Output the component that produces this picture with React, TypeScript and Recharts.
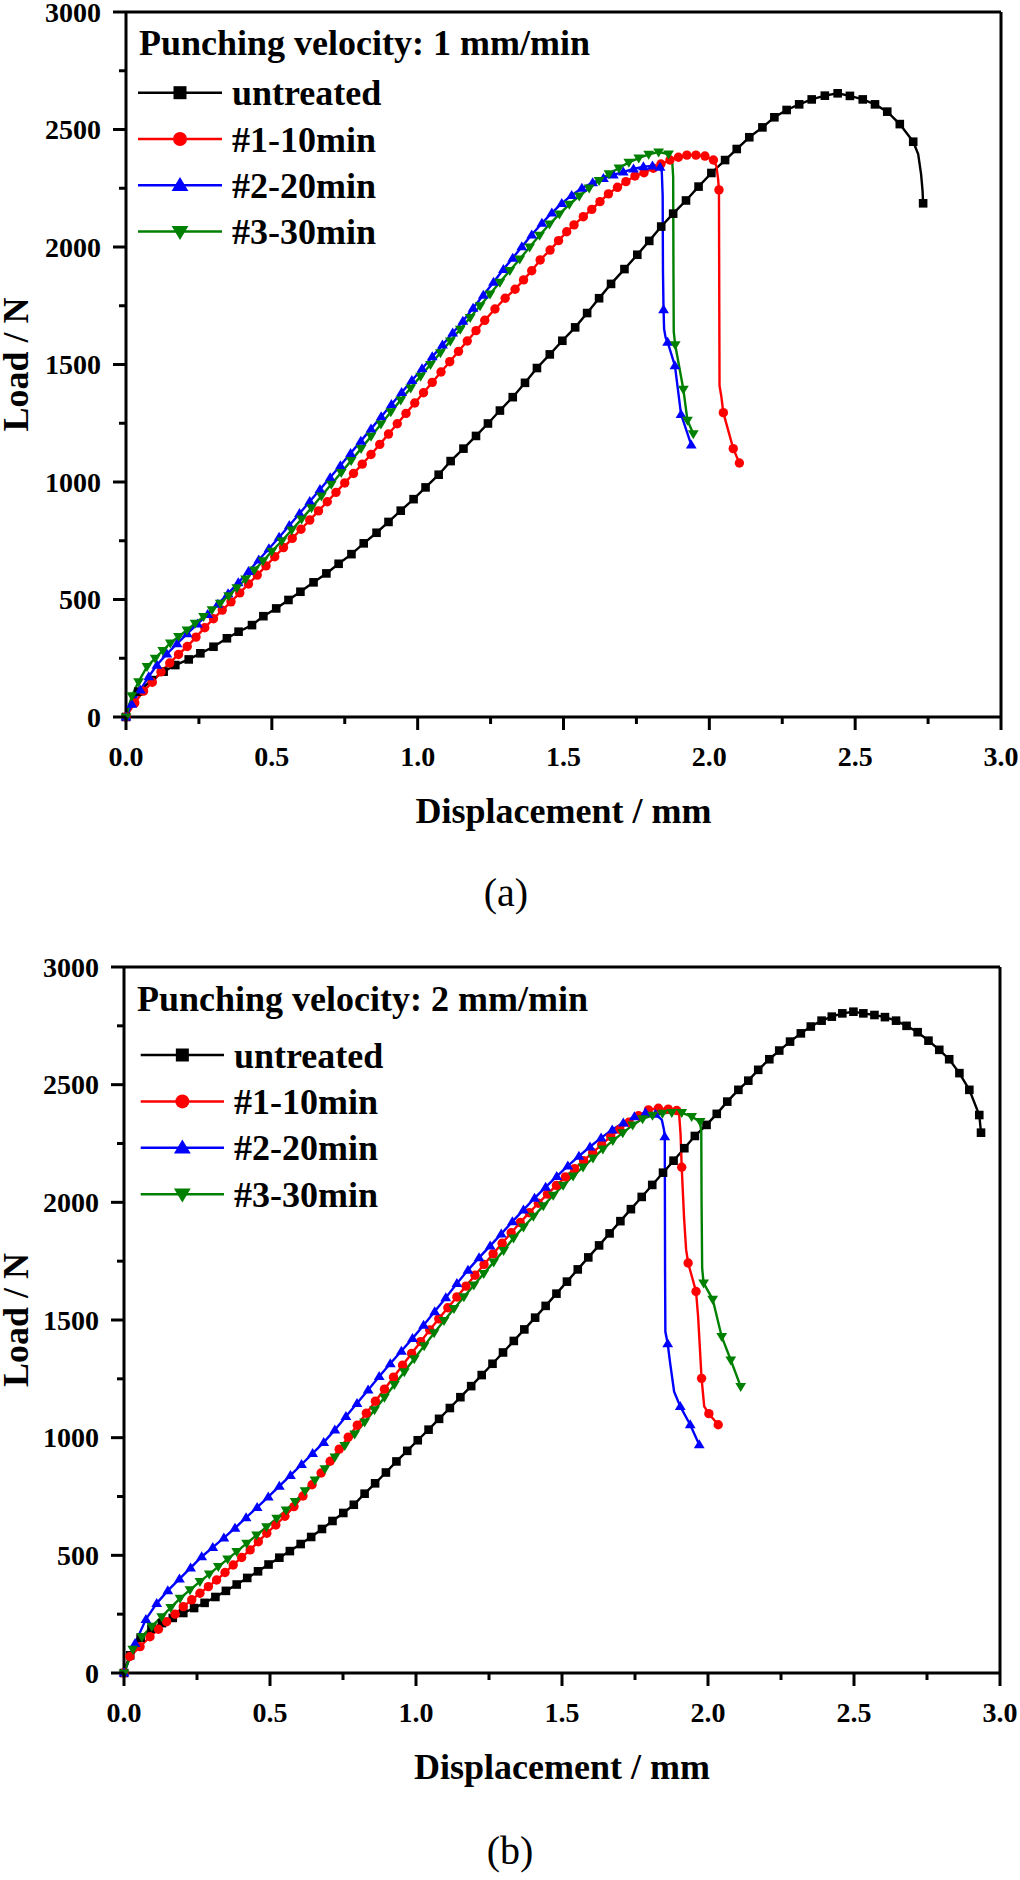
import React from 'react';
import { LineChart, Line, XAxis, YAxis, ReferenceLine } from 'recharts';

type Pt = [number, number];
type Row = { x: number; y: number; sym: boolean };

const SERIF = "'Liberation Serif', 'Times New Roman', Times, serif";

// Axis ticks (minor every 0.25 mm / 250 N, labelled every 0.5 mm / 500 N)
const DISP_TICKS = [0, 0.25, 0.5, 0.75, 1, 1.25, 1.5, 1.75, 2, 2.25, 2.5, 2.75, 3];
const LOAD_TICKS = [0, 250, 500, 750, 1000, 1250, 1500, 1750, 2000, 2250, 2500, 2750, 3000];

const SERIES_NAMES = ['untreated', '#1-10min', '#2-20min', '#3-30min'];
const SERIES_COLORS = ['#000000', '#ff0000', '#0000ff', '#008000'];
const SERIES_SYMBOLS = ['square', 'circle', 'up', 'down'];
const VELOCITY_TITLES = ['Punching velocity: 1 mm/min', 'Punching velocity: 2 mm/min'];
const PANEL_TAGS = ['(a)', '(b)'];
const X_TITLE = 'Displacement / mm';
const Y_TITLE = 'Load / N';

// ---------- Punching velocity 1 mm/min: [displacement mm, load N] ----------
// symbol points
const untreatedA: Pt[] = [
  [0, 0], [0.042, 108], [0.089, 157], [0.129, 193], [0.169, 221], [0.215, 245], [0.255, 271], [0.3, 299],
  [0.346, 335], [0.386, 363], [0.432, 391], [0.471, 429], [0.515, 462], [0.557, 498], [0.598, 533], [0.643, 573],
  [0.687, 611], [0.729, 652], [0.773, 693], [0.815, 739], [0.859, 784], [0.9, 830], [0.942, 878], [0.986, 927],
  [1.027, 977], [1.072, 1031], [1.113, 1089], [1.157, 1142], [1.2, 1196], [1.241, 1249], [1.282, 1304], [1.326, 1361],
  [1.368, 1422], [1.409, 1485], [1.453, 1543], [1.496, 1601], [1.54, 1658], [1.581, 1719], [1.622, 1782], [1.663, 1843],
  [1.709, 1906], [1.753, 1967], [1.794, 2026], [1.835, 2087], [1.876, 2142], [1.92, 2198], [1.963, 2257], [2.007, 2315],
  [2.054, 2370], [2.094, 2417], [2.137, 2467], [2.182, 2509], [2.223, 2552], [2.265, 2583], [2.308, 2607], [2.351, 2628],
  [2.396, 2644], [2.44, 2654], [2.482, 2643], [2.526, 2628], [2.568, 2607], [2.61, 2576], [2.653, 2523], [2.699, 2448],
  [2.733, 2186],
];
// line-only points between symbols
const untreatedABends: Pt[] = [[0.012, 55], [2.716, 2395], [2.726, 2310], [2.731, 2240]];

const min10A: Pt[] = [
  [0, 0], [0.03, 60], [0.06, 110], [0.09, 148], [0.12, 192], [0.15, 230], [0.18, 266], [0.21, 300],
  [0.24, 340], [0.27, 380], [0.3, 418], [0.33, 455], [0.36, 490], [0.39, 528], [0.42, 566], [0.45, 604],
  [0.48, 643], [0.51, 682], [0.54, 721], [0.57, 760], [0.6, 799], [0.63, 838], [0.66, 877], [0.69, 916],
  [0.72, 956], [0.75, 996], [0.78, 1036], [0.81, 1076], [0.84, 1117], [0.87, 1160], [0.9, 1204], [0.93, 1248],
  [0.96, 1292], [0.99, 1336], [1.02, 1380], [1.05, 1424], [1.08, 1468], [1.11, 1512], [1.14, 1556], [1.17, 1600],
  [1.2, 1644], [1.23, 1688], [1.265, 1736], [1.3, 1782], [1.334, 1820], [1.363, 1860], [1.391, 1899], [1.42, 1945],
  [1.454, 1987], [1.483, 2027], [1.511, 2065], [1.536, 2094], [1.568, 2129], [1.597, 2160], [1.625, 2193], [1.654, 2226],
  [1.685, 2254], [1.714, 2278], [1.745, 2302], [1.776, 2316], [1.808, 2335], [1.834, 2353], [1.865, 2370], [1.894, 2382],
  [1.923, 2391], [1.954, 2391], [1.985, 2387], [2.014, 2370], [2.033, 2243], [2.048, 1295], [2.082, 1142], [2.103, 1081],
];
const min10ABends: Pt[] = [[2.024, 2345], [2.03, 2290], [2.034, 1800], [2.035, 1410], [2.041, 1365]];

const min20A: Pt[] = [
  [0, 0], [0.02, 55], [0.049, 115], [0.078, 172], [0.106, 221], [0.14, 268], [0.175, 312], [0.21, 355],
  [0.245, 396], [0.28, 437], [0.315, 480], [0.35, 525], [0.385, 572], [0.42, 620], [0.455, 668], [0.49, 716],
  [0.525, 765], [0.56, 815], [0.595, 866], [0.63, 917], [0.665, 968], [0.7, 1019], [0.735, 1070], [0.77, 1122],
  [0.805, 1174], [0.84, 1226], [0.875, 1278], [0.91, 1330], [0.945, 1381], [0.98, 1432], [1.015, 1482], [1.05, 1533],
  [1.085, 1583], [1.12, 1634], [1.155, 1684], [1.19, 1740], [1.225, 1795], [1.26, 1850], [1.294, 1905], [1.326, 1953],
  [1.357, 2001], [1.391, 2052], [1.426, 2101], [1.46, 2145], [1.494, 2186], [1.528, 2220], [1.563, 2250], [1.6, 2274],
  [1.637, 2292], [1.671, 2307], [1.705, 2320], [1.74, 2332], [1.774, 2342], [1.805, 2345], [1.831, 2340], [1.843, 1733],
  [1.857, 1595], [1.882, 1495], [1.903, 1288], [1.938, 1158],
];
const min20ABends: Pt[] = [[1.837, 2320], [1.84, 2220], [1.841, 1900], [1.845, 1650], [1.85, 1615]];

const min30A: Pt[] = [
  [0, 0], [0.02, 90], [0.043, 150], [0.072, 214], [0.1, 250], [0.126, 283], [0.152, 314], [0.18, 342],
  [0.209, 370], [0.237, 398], [0.266, 427], [0.295, 456], [0.323, 484], [0.352, 516], [0.38, 550], [0.41, 587],
  [0.44, 625], [0.47, 664], [0.5, 705], [0.534, 749], [0.568, 795], [0.602, 842], [0.636, 890], [0.67, 940],
  [0.704, 990], [0.738, 1040], [0.772, 1091], [0.806, 1142], [0.84, 1194], [0.874, 1246], [0.908, 1298], [0.942, 1349],
  [0.976, 1400], [1.01, 1450], [1.044, 1500], [1.078, 1550], [1.112, 1600], [1.146, 1650], [1.18, 1700], [1.214, 1750],
  [1.248, 1800], [1.282, 1850], [1.316, 1900], [1.35, 1948], [1.384, 2000], [1.418, 2050], [1.452, 2097], [1.486, 2140],
  [1.52, 2181], [1.554, 2217], [1.588, 2251], [1.622, 2283], [1.656, 2311], [1.69, 2336], [1.724, 2360], [1.758, 2378],
  [1.792, 2394], [1.826, 2404], [1.86, 2395], [1.883, 1584], [1.911, 1394], [1.925, 1262], [1.945, 1205],
];
const min30ABends: Pt[] = [[1.872, 2378], [1.876, 2300], [1.877, 1900], [1.878, 1640]];

// ---------- Punching velocity 2 mm/min ----------
const untreatedB: Pt[] = [
  [0, 0], [0.021, 75], [0.057, 150], [0.094, 188], [0.13, 212], [0.167, 234], [0.203, 255], [0.24, 276],
  [0.276, 298], [0.313, 323], [0.349, 349], [0.386, 376], [0.422, 404], [0.459, 432], [0.495, 461], [0.532, 490],
  [0.568, 518], [0.605, 548], [0.641, 578], [0.678, 612], [0.714, 646], [0.751, 680], [0.787, 715], [0.824, 762],
  [0.86, 806], [0.897, 852], [0.933, 899], [0.97, 944], [1.006, 989], [1.043, 1034], [1.079, 1080], [1.116, 1126],
  [1.152, 1172], [1.189, 1219], [1.225, 1266], [1.262, 1314], [1.298, 1362], [1.335, 1411], [1.371, 1460], [1.408, 1510],
  [1.444, 1560], [1.481, 1612], [1.517, 1663], [1.554, 1715], [1.59, 1766], [1.627, 1817], [1.663, 1868], [1.7, 1920],
  [1.736, 1971], [1.773, 2023], [1.809, 2074], [1.846, 2126], [1.882, 2177], [1.919, 2230], [1.955, 2282], [1.995, 2329],
  [2.03, 2376], [2.066, 2428], [2.104, 2478], [2.138, 2517], [2.172, 2563], [2.21, 2608], [2.244, 2645], [2.281, 2683],
  [2.318, 2718], [2.352, 2747], [2.389, 2772], [2.424, 2789], [2.46, 2803], [2.498, 2810], [2.532, 2803], [2.57, 2796],
  [2.606, 2787], [2.644, 2772], [2.68, 2750], [2.718, 2723], [2.755, 2687], [2.792, 2648], [2.826, 2608], [2.861, 2549],
  [2.895, 2478], [2.929, 2371], [2.935, 2296],
];
const untreatedBBends: Pt[] = [[0.01, 42]];

const min10B: Pt[] = [
  [0, 0], [0.02, 70], [0.055, 112], [0.089, 154], [0.118, 186], [0.146, 218], [0.175, 250], [0.203, 282],
  [0.232, 311], [0.26, 339], [0.289, 367], [0.317, 395], [0.346, 427], [0.374, 459], [0.403, 491], [0.432, 523],
  [0.46, 558], [0.489, 594], [0.52, 629], [0.551, 666], [0.582, 707], [0.613, 752], [0.644, 800], [0.675, 850],
  [0.706, 900], [0.737, 951], [0.768, 1002], [0.799, 1053], [0.83, 1104], [0.861, 1155], [0.892, 1206], [0.923, 1257],
  [0.954, 1308], [0.985, 1358], [1.016, 1408], [1.047, 1458], [1.078, 1505], [1.109, 1552], [1.14, 1598], [1.171, 1644],
  [1.202, 1690], [1.233, 1736], [1.264, 1781], [1.295, 1826], [1.326, 1871], [1.357, 1914], [1.388, 1956], [1.419, 1996],
  [1.45, 2035], [1.481, 2072], [1.512, 2108], [1.543, 2143], [1.574, 2177], [1.605, 2211], [1.636, 2245], [1.667, 2280],
  [1.698, 2310], [1.729, 2340], [1.762, 2368], [1.796, 2393], [1.83, 2400], [1.864, 2396], [1.893, 2390], [1.91, 2149],
  [1.932, 1742], [1.959, 1621], [1.978, 1252], [2.003, 1102], [2.035, 1055],
];
const min10BBends: Pt[] = [[1.901, 2378], [1.906, 2290], [1.918, 1935], [1.925, 1800], [1.966, 1517], [1.987, 1133]];

const min20B: Pt[] = [
  [0, 0], [0.038, 126], [0.075, 228], [0.112, 296], [0.15, 350], [0.19, 400], [0.228, 447], [0.266, 494],
  [0.304, 534], [0.342, 574], [0.38, 616], [0.418, 660], [0.456, 704], [0.494, 748], [0.532, 794], [0.57, 840],
  [0.608, 886], [0.646, 933], [0.684, 980], [0.722, 1033], [0.76, 1090], [0.798, 1146], [0.836, 1203], [0.874, 1260],
  [0.912, 1315], [0.95, 1368], [0.988, 1422], [1.026, 1478], [1.064, 1536], [1.102, 1595], [1.14, 1655], [1.178, 1712],
  [1.216, 1765], [1.254, 1815], [1.292, 1866], [1.33, 1918], [1.368, 1968], [1.406, 2018], [1.444, 2065], [1.482, 2110],
  [1.52, 2155], [1.558, 2196], [1.596, 2236], [1.634, 2274], [1.672, 2308], [1.71, 2338], [1.748, 2364], [1.786, 2381],
  [1.82, 2375], [1.852, 2279], [1.862, 1400], [1.905, 1133], [1.939, 1055], [1.97, 970],
];
const min20BBends: Pt[] = [[1.842, 2350], [1.849, 2310], [1.853, 1700], [1.854, 1450], [1.87, 1320], [1.884, 1195]];

const min30B: Pt[] = [
  [0, 0], [0.03, 100], [0.061, 154], [0.095, 198], [0.129, 239], [0.16, 278], [0.192, 317], [0.226, 353],
  [0.26, 388], [0.292, 420], [0.323, 452], [0.355, 484], [0.386, 516], [0.42, 551], [0.454, 586], [0.488, 621],
  [0.523, 657], [0.555, 692], [0.586, 728], [0.62, 774], [0.654, 820], [0.688, 868], [0.722, 917], [0.756, 966],
  [0.79, 1015], [0.824, 1066], [0.858, 1118], [0.892, 1171], [0.926, 1225], [0.96, 1280], [0.994, 1335], [1.028, 1390],
  [1.062, 1445], [1.096, 1497], [1.13, 1548], [1.164, 1598], [1.198, 1648], [1.232, 1697], [1.266, 1746], [1.3, 1795],
  [1.334, 1848], [1.368, 1895], [1.402, 1940], [1.436, 1985], [1.47, 2030], [1.504, 2072], [1.538, 2112], [1.572, 2150],
  [1.606, 2188], [1.64, 2226], [1.674, 2262], [1.708, 2295], [1.742, 2328], [1.776, 2355], [1.81, 2370], [1.844, 2378],
  [1.876, 2381], [1.91, 2381], [1.944, 2364], [1.973, 2343], [1.985, 1657], [2.016, 1588], [2.047, 1429], [2.078, 1330],
  [2.112, 1217],
];
const min30BBends: Pt[] = [[1.977, 2300], [1.978, 2000], [1.98, 1720]];

const toRows = (marks: Pt[], bends: Pt[]): Row[] =>
  [
    ...marks.map(([x, y]) => ({ x, y, sym: true })),
    ...bends.map(([x, y]) => ({ x, y, sym: false })),
  ].sort((a, b) => a.x - b.x);

const PANEL_A_ROWS = [
  toRows(untreatedA, untreatedABends),
  toRows(min10A, min10ABends),
  toRows(min20A, min20ABends),
  toRows(min30A, min30ABends),
];
const PANEL_B_ROWS = [
  toRows(untreatedB, untreatedBBends),
  toRows(min10B, min10BBends),
  toRows(min20B, min20BBends),
  toRows(min30B, min30BBends),
];

// ---------- drawing helpers ----------
function SymbolMark({ kind, cx, cy, color, size }: { kind: string; cx: number; cy: number; color: string; size: number }) {
  const h = size / 2;
  if (kind === 'square') return <rect x={cx - h} y={cy - h} width={size} height={size} fill={color} />;
  if (kind === 'circle') return <circle cx={cx} cy={cy} r={h} fill={color} />;
  if (kind === 'up')
    return <polygon points={`${cx},${cy - 1.2 * h} ${cx - 1.2 * h},${cy + 0.8 * h} ${cx + 1.2 * h},${cy + 0.8 * h}`} fill={color} />;
  return <polygon points={`${cx},${cy + 1.2 * h} ${cx - 1.2 * h},${cy - 0.8 * h} ${cx + 1.2 * h},${cy - 0.8 * h}`} fill={color} />;
}

const PLOT_SYMBOL_SIZE: Record<string, number> = { square: 8.6, circle: 9.4, up: 9, down: 9 };
const LEGEND_SYMBOL_SIZE: Record<string, number> = { square: 13, circle: 14, up: 14, down: 14 };

const XTick = (props: any) => {
  const { x, y, payload } = props;
  const v = payload.value as number;
  const major = Math.abs(v * 2 - Math.round(v * 2)) < 1e-6;
  return (
    <g>
      <line x1={x} y1={y} x2={x} y2={y + (major ? 13 : 7)} stroke="#000" strokeWidth={3} />
      {major && (
        <text x={x} y={y + 48.5} textAnchor="middle" fontFamily={SERIF} fontWeight="bold" fontSize={28} fill="#000">
          {v.toFixed(1)}
        </text>
      )}
    </g>
  );
};

const YTick = (props: any) => {
  const { x, y, payload } = props;
  const v = payload.value as number;
  const major = v % 500 === 0;
  return (
    <g>
      <line x1={x} y1={y} x2={x - (major ? 13 : 7)} y2={y} stroke="#000" strokeWidth={3} />
      {major && (
        <text x={x - 25} y={y + 9.5} textAnchor="end" fontFamily={SERIF} fontWeight="bold" fontSize={28} fill="#000">
          {v}
        </text>
      )}
    </g>
  );
};

const XTitle = (props: any) => {
  const vb = props.viewBox || {};
  return (
    <text x={vb.x + vb.width / 2} y={vb.y + 106} textAnchor="middle" fontFamily={SERIF} fontWeight="bold" fontSize={36} fill="#000">
      {X_TITLE}
    </text>
  );
};

const YTitle = (props: any) => {
  const vb = props.viewBox || {};
  const cy = vb.y + vb.height / 2;
  return (
    <text x={28} y={cy} transform={`rotate(-90 28 ${cy})`} textAnchor="middle" fontFamily={SERIF} fontWeight="bold" fontSize={36} fill="#000">
      {Y_TITLE}
    </text>
  );
};

type Layout = {
  yAxisW: number; mTop: number; mRight: number; mBottom: number;
  titleX: number; titleY: number; rowY0: number; rowGap: number;
  lineX1: number; lineX2: number; textX: number; tagX: number; tagY: number;
};

const LAYOUT_A: Layout = {
  yAxisW: 126, mTop: 12, mRight: 19, mBottom: 113,
  titleX: 139, titleY: 55, rowY0: 92.7, rowGap: 46.3,
  lineX1: 138, lineX2: 222, textX: 232, tagX: 506, tagY: 906,
};
const LAYOUT_B: Layout = {
  yAxisW: 124, mTop: 27, mRight: 20, mBottom: 97,
  titleX: 137, titleY: 70.7, rowY0: 115, rowGap: 46.4,
  lineX1: 140.7, lineX2: 224, textX: 234, tagX: 510, tagY: 924,
};

const W = 1020;
const H = 940;

function Panel({ rows, title, tag, L }: { rows: Row[][]; title: string; tag: string; L: Layout }) {
  return (
    <div style={{ position: 'relative', width: W, height: H }}>
      <LineChart width={W} height={H} margin={{ top: L.mTop, right: L.mRight, bottom: L.mBottom, left: 0 }}>
        <XAxis
          type="number"
          dataKey="x"
          domain={[0, 3]}
          ticks={DISP_TICKS}
          interval={0}
          height={110}
          tickSize={0}
          tickMargin={0}
          tickLine={false}
          tick={(p: any) => <XTick {...p} />}
          axisLine={{ stroke: '#000', strokeWidth: 3 }}
          label={(p: any) => <XTitle {...p} />}
        />
        <YAxis
          type="number"
          domain={[0, 3000]}
          ticks={LOAD_TICKS}
          interval={0}
          width={L.yAxisW}
          tickSize={0}
          tickMargin={0}
          tickLine={false}
          tick={(p: any) => <YTick {...p} />}
          axisLine={{ stroke: '#000', strokeWidth: 3 }}
          label={(p: any) => <YTitle {...p} />}
        />
        <ReferenceLine y={3000} stroke="#000" strokeWidth={3} />
        <ReferenceLine x={3} stroke="#000" strokeWidth={3} />
        {rows.map((data, i) => (
          <Line
            key={SERIES_NAMES[i]}
            name={SERIES_NAMES[i]}
            data={data}
            dataKey="y"
            type="linear"
            stroke={SERIES_COLORS[i]}
            strokeWidth={2.4}
            isAnimationActive={false}
            activeDot={false}
            dot={(p: any) => {
              const kind = SERIES_SYMBOLS[i];
              if (!p.payload || !p.payload.sym) return <g key={`d-${i}-${p.index}`} />;
              return (
                <g key={`d-${i}-${p.index}`}>
                  <SymbolMark kind={kind} cx={p.cx} cy={p.cy} color={SERIES_COLORS[i]} size={PLOT_SYMBOL_SIZE[kind]} />
                </g>
              );
            }}
          />
        ))}
      </LineChart>
      <svg width={W} height={H} style={{ position: 'absolute', left: 0, top: 0, pointerEvents: 'none' }}>
        <text x={L.titleX} y={L.titleY} fontFamily={SERIF} fontWeight="bold" fontSize={36} fill="#000">
          {title}
        </text>
        {SERIES_NAMES.map((name, i) => {
          const cy = L.rowY0 + i * L.rowGap;
          const kind = SERIES_SYMBOLS[i];
          return (
            <g key={name}>
              <line x1={L.lineX1} x2={L.lineX2} y1={cy} y2={cy} stroke={SERIES_COLORS[i]} strokeWidth={2.5} />
              <SymbolMark kind={kind} cx={(L.lineX1 + L.lineX2) / 2} cy={cy} color={SERIES_COLORS[i]} size={LEGEND_SYMBOL_SIZE[kind]} />
              <text x={L.textX} y={cy + 12.5} fontFamily={SERIF} fontWeight="bold" fontSize={36} fill="#000">
                {name}
              </text>
            </g>
          );
        })}
        <text x={L.tagX} y={L.tagY} textAnchor="middle" fontFamily={SERIF} fontSize={40} fill="#000">
          {tag}
        </text>
      </svg>
    </div>
  );
}

export default function App() {
  return (
    <div style={{ position: 'absolute', left: 0, top: 0, width: W, height: 1880, background: '#fff', overflow: 'hidden' }}>
      <Panel rows={PANEL_A_ROWS} title={VELOCITY_TITLES[0]} tag={PANEL_TAGS[0]} L={LAYOUT_A} />
      <Panel rows={PANEL_B_ROWS} title={VELOCITY_TITLES[1]} tag={PANEL_TAGS[1]} L={LAYOUT_B} />
    </div>
  );
}
